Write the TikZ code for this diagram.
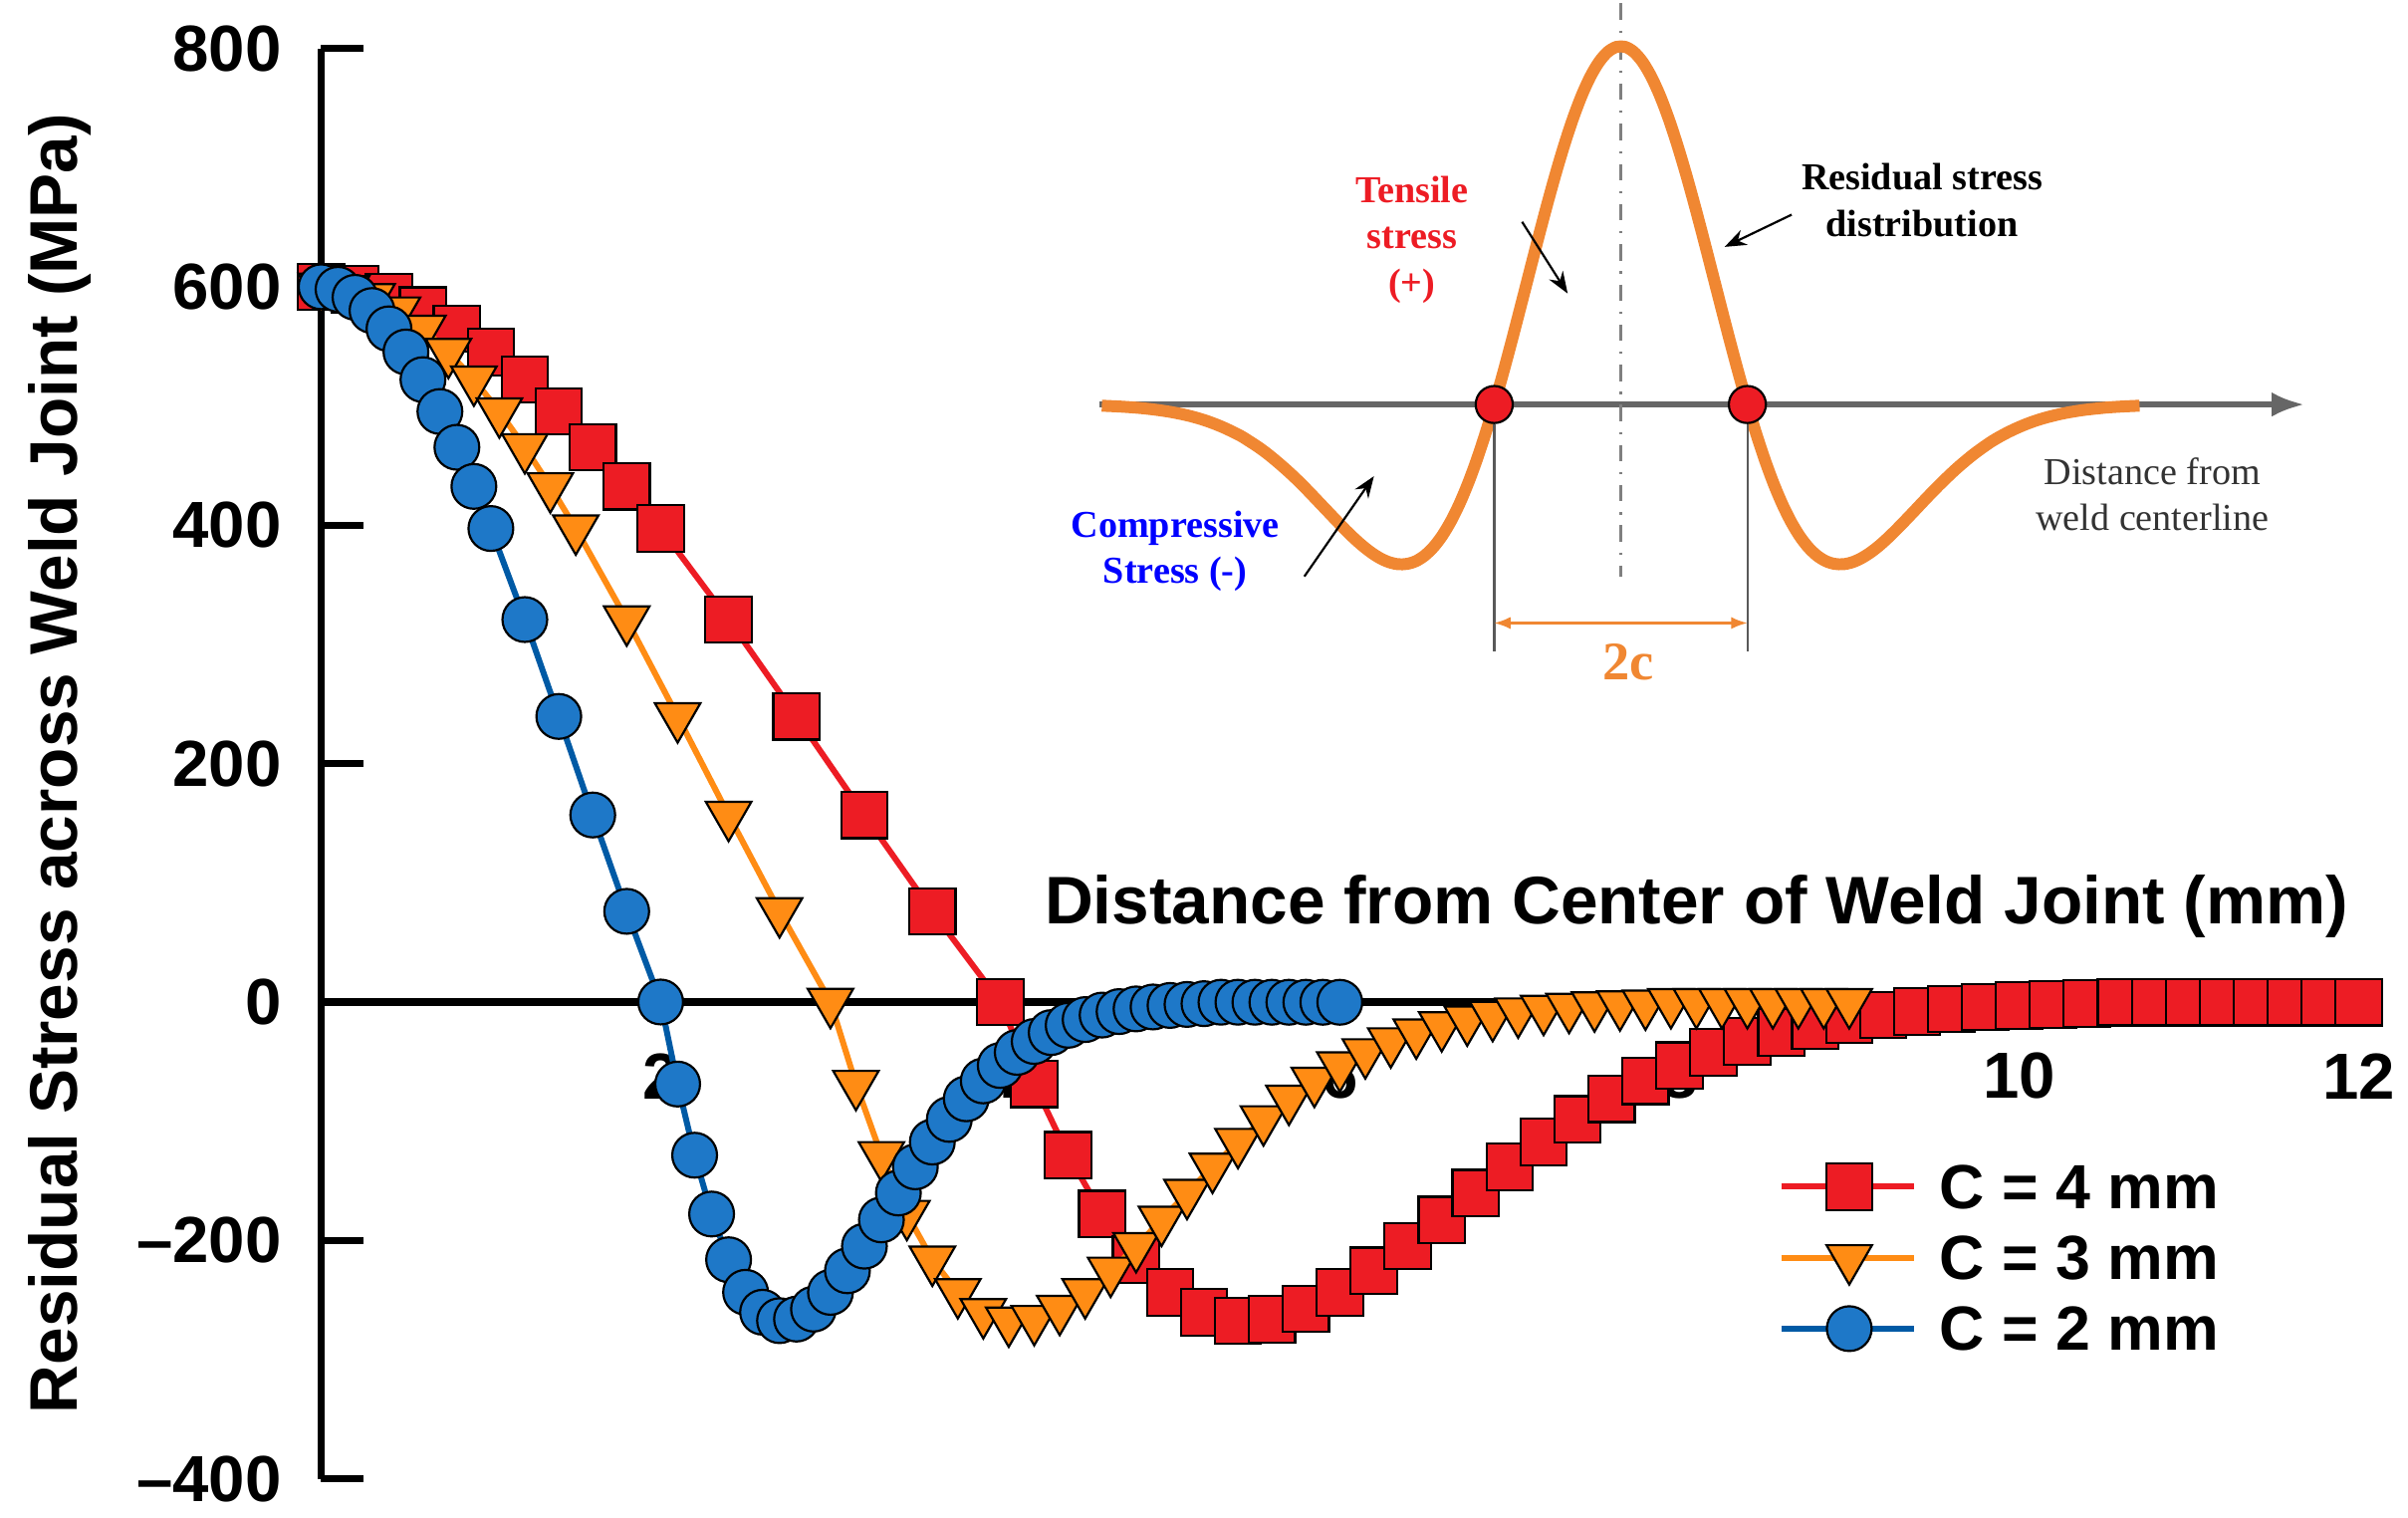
\documentclass[tikz,border=0pt]{standalone}
\usepackage{fontspec}
\setmainfont{Liberation Sans}
\newfontfamily\serifbold{Liberation Serif}
\usetikzlibrary{arrows.meta, positioning, calc, plotmarks}

\definecolor{cfour}{RGB}{237,28,36}
\definecolor{cthree}{RGB}{255,140,20}
\definecolor{ctwo}{RGB}{0,90,165}
\definecolor{ctwofill}{RGB}{30,120,200}
\definecolor{weld}{RGB}{240,135,50}

% stress profile, u = x/c
\tikzset{declare function={prof(\u)=600*(1-max(\u,2*\u-1)^2)*exp(-0.5*max(\u,2*\u-1)^2);}}

\begin{document}
\begin{tikzpicture}[
    axis/.style={line width=1.3pt},
    ticklab/.style={font=\fontsize{12}{14}\selectfont\bfseries},
    title/.style={font=\fontsize{12.4}{14}\selectfont\bfseries},
    leg/.style={font=\fontsize{11.5}{13}\selectfont\bfseries, anchor=west},
    note/.style={font=\serifbold\fontsize{7}{8.5}\selectfont\bfseries, align=center},
    ptr/.style={-{Stealth[length=4pt]}, thin},
    curvefour/.style={cfour, line width=1.1pt, mark=square*, mark size=1.5mm, mark options={fill=cfour, draw=black, line width=0.4pt}},
    curvethree/.style={cthree, line width=1.1pt, mark=triangle*, mark size=1.7mm, mark options={fill=cthree, draw=black, line width=0.4pt, rotate=180}},
    curvetwo/.style={ctwo, line width=1.1pt, mark=*, mark size=1.45mm, mark options={fill=ctwofill, draw=black, line width=0.4pt}}
]
\useasboundingbox (0,0) rectangle (15.6,9.83);

% main chart, data coordinates
\begin{scope}[shift={(2.08,3.34)}, x=1.1cm, y=0.0077253cm]
  \draw[axis] (0,-400) -- (0,800);
  \draw[axis] (0,0) -- (12.1,0);
  \foreach \v/\t in {-400/--400,-200/--200,0/0,200/200,400/400,600/600,800/800}
    {\draw[axis] (0,\v) -- (0.25,\v);
     \node[ticklab, anchor=east] at (-0.12,\v) {\t};}
  \foreach \v in {2,4,...,12}
    \node[ticklab] at (\v,-62) {\v};
  \node[title] (xtitle) at (8.1,80) {Distance from Center of Weld Joint (mm)};
  \node[title, rotate=90] (ytitle) at (-1.54,200) {Residual Stress across Weld Joint (MPa)};

  % residual stress curves (dense points near 0 and past c)
  \draw[curvefour] plot[domain=0:1.8, samples=10] (\x,{prof(\x/4)})
    -- plot[domain=2:4, samples=6] (\x,{prof(\x/4)})
    -- plot[domain=4.2:12, samples=40] (\x,{prof(\x/4)});
  \draw[curvethree] plot[domain=0:1.35, samples=10] (\x,{prof(\x/3)})
    -- plot[domain=1.5:3, samples=6] (\x,{prof(\x/3)})
    -- plot[domain=3.15:9, samples=40] (\x,{prof(\x/3)});
  \draw[curvetwo] plot[domain=0:0.9, samples=10] (\x,{prof(\x/2)})
    -- plot[domain=1:2, samples=6] (\x,{prof(\x/2)})
    -- plot[domain=2.1:6, samples=40] (\x,{prof(\x/2)});

  % legend
  \coordinate (lfa) at (8.6,-155); \coordinate (lfb) at (9.38,-155);
  \draw[cfour, line width=1.1pt] (lfa) -- (lfb);
  \path[curvefour] plot coordinates {(9.0,-155)};
  \node[leg] (lfour) at (9.42,-155) {C = 4 mm};
  \coordinate (lta) at (8.6,-215); \coordinate (ltb) at (9.38,-215);
  \draw[cthree, line width=1.1pt] (lta) -- (ltb);
  \path[curvethree] plot coordinates {(9.0,-215)};
  \node[leg] (lthree) at (9.42,-215) {C = 3 mm};
  \coordinate (lwa) at (8.6,-274); \coordinate (lwb) at (9.38,-274);
  \draw[ctwo, line width=1.1pt] (lwa) -- (lwb);
  \path[curvetwo] plot coordinates {(9.0,-274)};
  \node[leg] (ltwo) at (9.42,-274) {C = 2 mm};
\end{scope}

% inset sketch
\begin{scope}[shift={(10.5,7.21)}, x=0.82cm, y=2.32cm]
  \coordinate (axl) at (-4.12,0);
  \coordinate (axr) at (5.4,0);
  \draw[gray!80!black, line width=1pt, -{Latex[length=6pt]}] (axl) -- (axr);
  \draw[gray, dash dot, thin] (0,1.12) -- (0,-0.48);
  \draw[weld, line width=2.2pt] plot[domain=-4.1:4.1, samples=120, smooth] (\x,{(1-\x*\x)*exp(-0.5*\x*\x)});
  \node[circle, fill=cfour, draw=black, inner sep=0pt, minimum size=2.4mm] (zl) at (-1,0) {};
  \node[circle, fill=cfour, draw=black, inner sep=0pt, minimum size=2.4mm] (zr) at (1,0) {};
  \coordinate (bl) at (-1,-0.69);
  \coordinate (br) at (1,-0.69);
  \draw[gray!70!black, thin] (zl) -- (bl);
  \draw[gray!70!black, thin] (zr) -- (br);
  \draw[weld, thin, {Latex[length=3pt]}-{Latex[length=3pt]}] ($(bl)+(0,0.08)$) -- ($(br)+(0,0.08)$);
  \node[font=\serifbold\fontsize{10}{12}\selectfont\bfseries, text=weld] (twoc) at (0.06,-0.72) {2c};

  \node[note, text=cfour] (tens) at (-1.65,0.46) {Tensile\\stress\\(+)};
  \coordinate (tenstip) at (-0.42,0.31);
  \draw[ptr] (-0.78,0.51) -- (tenstip);
  \node[note] (resid) at (2.38,0.57) {Residual stress\\distribution};
  \coordinate (residtip) at (0.82,0.44);
  \draw[ptr] (1.35,0.53) -- (residtip);
  \node[note, text=blue] (comp) at (-3.52,-0.41) {Compressive\\Stress (-)};
  \coordinate (comptip) at (-1.95,-0.2);
  \draw[ptr] (-2.5,-0.48) -- (comptip);
  \node[note, text=gray!40!black, font=\serifbold\fontsize{7}{8.5}\selectfont] (dist) at (4.2,-0.25) {Distance from\\weld centerline};
\end{scope}
\end{tikzpicture}
\end{document}
